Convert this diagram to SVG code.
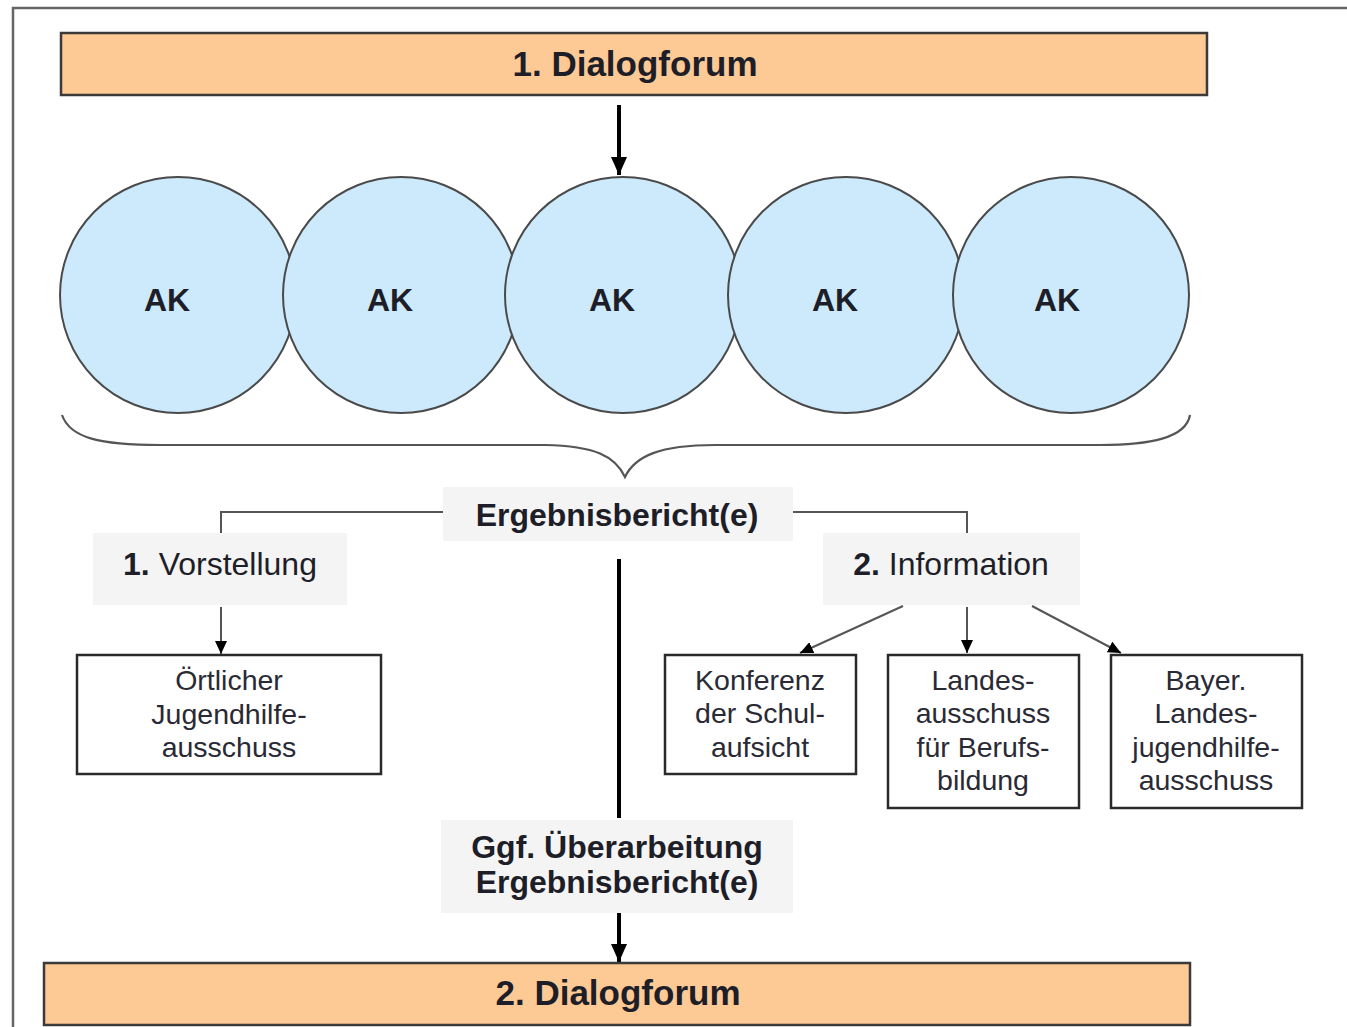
<svg xmlns="http://www.w3.org/2000/svg" width="1347" height="1027" viewBox="0 0 1347 1027">
<style>
.forum{fill:#FDC994;stroke:#3a3a3a;stroke-width:2.5}
.ak{fill:#CCEAFB;stroke:#4a4a4a;stroke-width:2}
.label{fill:#F4F4F4}
.box{fill:#fff;stroke:#2a2a2a;stroke-width:2.5}
.t{font-family:"Liberation Sans",Arial,sans-serif;fill:#1e1e28;text-anchor:middle}
.b{font-weight:bold}
.big{font-size:35px}
.mid{font-size:32px}
.sm{font-size:28.5px;fill:#2a2a35}
.thick{stroke:#000;stroke-width:4;fill:none}
.thin{stroke:#555;stroke-width:2;fill:none}
</style>
<defs>
<marker id="ahBig" viewBox="0 0 18 16" refX="18" refY="8" markerWidth="18" markerHeight="16" orient="auto" markerUnits="userSpaceOnUse"><path d="M0,0 L18,8 L0,16 z" fill="#000"/></marker>
<marker id="ahSm" viewBox="0 0 13 12" refX="13" refY="6" markerWidth="13" markerHeight="12" orient="auto" markerUnits="userSpaceOnUse"><path d="M0,0 L13,6 L0,12 z" fill="#000"/></marker>
</defs>
<rect width="1347" height="1027" fill="#fff"/>
<rect x="13" y="8" width="1400" height="1100" fill="none" stroke="#666" stroke-width="2.5"/>

<g id="forum1"><rect class="forum" x="61" y="33" width="1146" height="62"/><text class="t b big" x="635" y="76">1. Dialogforum</text></g>

<g id="ak1"><circle class="ak" cx="178" cy="295" r="118"/><text class="t b mid" x="167" y="311">AK</text></g>
<g id="ak2"><circle class="ak" cx="401" cy="295" r="118"/><text class="t b mid" x="390" y="311">AK</text></g>
<g id="ak3"><circle class="ak" cx="623" cy="295" r="118"/><text class="t b mid" x="612" y="311">AK</text></g>
<g id="ak4"><circle class="ak" cx="846" cy="295" r="118"/><text class="t b mid" x="835" y="311">AK</text></g>
<g id="ak5"><circle class="ak" cx="1071" cy="295" r="118"/><text class="t b mid" x="1057" y="311">AK</text></g>

<g id="brace"><path d="M62,415 C70,438 100,445 160,445 L545,445 C595,446 615,456 625,477 C635,456 660,445 715,445 L1100,445 C1150,445 1186,438 1190,415" fill="none" stroke="#555" stroke-width="2.2"/></g>

<g id="connectors">
<path class="thick" d="M619,105 L619,175" marker-end="url(#ahBig)"/>
<path class="thin" d="M443,512 L221,512 L221,533"/>
<path class="thin" d="M777,512 L967,512 L967,533"/>
<path class="thin" d="M221,607 L221,654" marker-end="url(#ahSm)"/>
<path class="thick" d="M619,559 L619,818"/>
<path class="thick" d="M619,913 L619,962" marker-end="url(#ahBig)"/>
<path class="thin" stroke="#444" d="M903,606 L800,653" marker-end="url(#ahSm)"/>
<path class="thin" stroke="#444" d="M967,607 L967,653" marker-end="url(#ahSm)"/>
<path class="thin" stroke="#444" d="M1032,606 L1121,653" marker-end="url(#ahSm)"/>
</g>

<g id="ergebnis"><rect class="label" x="443" y="487" width="350" height="54"/><text class="t b mid" x="617" y="526">Ergebnisbericht(e)</text></g>

<g id="vorstellung"><rect class="label" x="93" y="533" width="254" height="72"/><text class="t mid" x="220" y="575"><tspan class="b">1.</tspan> Vorstellung</text></g>

<g id="information"><rect class="label" x="823" y="533" width="257" height="72"/><text class="t mid" x="951" y="575"><tspan class="b">2.</tspan> Information</text></g>

<g id="oertlich"><rect class="box" x="77" y="655" width="304" height="119"/><text class="t sm"><tspan x="229" y="690">Örtlicher</tspan><tspan x="229" y="724">Jugendhilfe-</tspan><tspan x="229" y="757">ausschuss</tspan></text></g>

<g id="konferenz"><rect class="box" x="665" y="655" width="191" height="119"/><text class="t sm"><tspan x="760" y="690">Konferenz</tspan><tspan x="760" y="723">der Schul-</tspan><tspan x="760" y="757">aufsicht</tspan></text></g>

<g id="landesausschuss"><rect class="box" x="888" y="655" width="191" height="153"/><text class="t sm"><tspan x="983" y="690">Landes-</tspan><tspan x="983" y="723">ausschuss</tspan><tspan x="983" y="757">für Berufs-</tspan><tspan x="983" y="790">bildung</tspan></text></g>

<g id="bayer"><rect class="box" x="1111" y="655" width="191" height="153"/><text class="t sm"><tspan x="1206" y="690">Bayer.</tspan><tspan x="1206" y="723">Landes-</tspan><tspan x="1206" y="757">jugendhilfe-</tspan><tspan x="1206" y="790">ausschuss</tspan></text></g>

<g id="ueberarbeitung"><rect class="label" x="441" y="820" width="352" height="93"/><text class="t b mid"><tspan x="617" y="858">Ggf. Überarbeitung</tspan><tspan x="617" y="893">Ergebnisbericht(e)</tspan></text></g>

<g id="forum2"><rect class="forum" x="44" y="963" width="1146" height="62"/><text class="t b big" x="618" y="1005">2. Dialogforum</text></g>
</svg>
